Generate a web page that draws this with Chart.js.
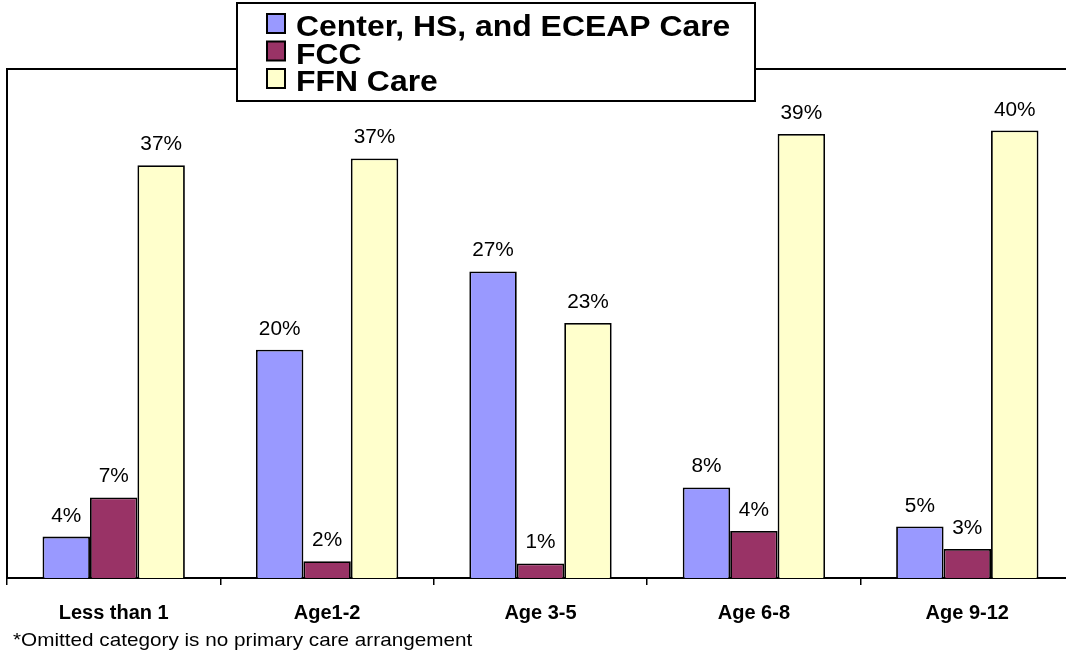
<!DOCTYPE html>
<html>
<head>
<meta charset="utf-8">
<script src="https://cdn.jsdelivr.net/npm/chart.js@4/dist/chart.umd.min.js"></script>
<style>
  html, body { margin: 0; padding: 0; background: #fff; overflow: hidden; }
  #wrap { position: relative; width: 1090px; height: 653px; }
</style>
</head>
<body>
<div id="wrap"><canvas id="careChart"></canvas></div>
<script>
// ---------- Data ----------
const ageGroups = ["Less than 1", "Age1-2", "Age 3-5", "Age 6-8", "Age 9-12"];
const seriesNames = ["Center, HS, and ECEAP Care", "FCC", "FFN Care"];

// bar heights (percent)
const centerValues = [3.7, 20.4, 27.4, 8.1, 4.6];
const fccValues = [7.2, 1.5, 1.3, 4.2, 2.6];
const ffnValues = [36.9, 37.5, 22.8, 39.7, 40.0];

// printed labels above the bars
const centerLabels = ["4%", "20%", "27%", "8%", "5%"];
const fccLabels = ["7%", "2%", "1%", "4%", "3%"];
const ffnLabels = ["37%", "37%", "23%", "39%", "40%"];

const footnote = "*Omitted category is no primary care arrangement";

const seriesColors = ["#9999FF", "#993366", "#FFFFCC"];

// the original picture is a little wider than its fonts, stretch text a bit
function wideText(ctx, text, x, y, sx) {
  ctx.save();
  ctx.translate(x, y);
  ctx.scale(sx, 1);
  ctx.fillText(text, 0, 0);
  ctx.restore();
}

// ---------- Plugins ----------
const frameAndLabels = {
  id: "frameAndLabels",
  afterDatasetsDraw(chart) {
    const { ctx, chartArea } = chart;
    ctx.save();

    // value labels
    ctx.font = "20px 'Liberation Sans', Arial, sans-serif";
    ctx.fillStyle = "#000";
    ctx.textAlign = "center";
    ctx.textBaseline = "alphabetic";
    chart.data.datasets.forEach((ds, i) => {
      const meta = chart.getDatasetMeta(i);
      meta.data.forEach((bar, j) => {
        wideText(ctx, ds.valueLabels[j], bar.x, bar.y - 15, 1.04);
      });
    });

    // top border of plot area
    ctx.strokeStyle = "#000";
    ctx.lineWidth = 2;
    ctx.beginPath();
    ctx.moveTo(chartArea.left, chartArea.top);
    ctx.lineTo(chartArea.right, chartArea.top);
    ctx.stroke();

    // legend box
    const bx = 237, by = 3, bw = 518, bh = 98;
    ctx.fillStyle = "#fff";
    ctx.fillRect(bx, by, bw, bh);
    ctx.strokeRect(bx, by, bw, bh);

    ctx.font = "bold 29px 'Liberation Sans', Arial, sans-serif";
    ctx.textAlign = "left";
    chart.data.datasets.forEach((ds, i) => {
      const base = 36 + i * 27.5;
      ctx.fillStyle = ds.backgroundColor;
      ctx.fillRect(267, base - 22, 18, 19);
      ctx.lineWidth = 2;
      ctx.strokeStyle = "#000";
      ctx.strokeRect(267, base - 22, 18, 19);
      ctx.fillStyle = "#000";
      wideText(ctx, ds.label, 296, base, 1.1);
    });

    // footnote
    ctx.font = "19px 'Liberation Sans', Arial, sans-serif";
    wideText(ctx, footnote, 13, 646, 1.09);
    ctx.restore();
  }
};

// ---------- Chart ----------
const ctx = document.getElementById("careChart");
new Chart(ctx, {
  type: "bar",
  data: {
    labels: ageGroups,
    datasets: [
      { label: seriesNames[0], data: centerValues, valueLabels: centerLabels, backgroundColor: seriesColors[0] },
      { label: seriesNames[1], data: fccValues, valueLabels: fccLabels, backgroundColor: seriesColors[1] },
      { label: seriesNames[2], data: ffnValues, valueLabels: ffnLabels, backgroundColor: seriesColors[2] }
    ].map(d => Object.assign(d, {
      borderColor: "#000",
      borderWidth: 1.8,
      barPercentage: 1.0,
      categoryPercentage: 0.667
    }))
  },
  options: {
    responsive: true,
    maintainAspectRatio: false,
    animation: false,
    layout: { padding: { left: 7, right: 16, top: 69, bottom: 0 } },
    plugins: {
      legend: { display: false },
      tooltip: { enabled: false }
    },
    scales: {
      x: {
        afterFit: s => { s.height = 75; },
        grid: {
          display: true,
          drawOnChartArea: false,
          color: "#000",
          lineWidth: 1.5,
          tickLength: 7
        },
        border: { color: "#000", width: 2 },
        ticks: {
          color: "#000",
          padding: 16,
          font: { family: "'Liberation Sans', Arial, sans-serif", size: 20, weight: "bold" }
        }
      },
      y: {
        min: 0,
        max: 45.5,
        afterFit: s => { s.width = 0; },
        grid: { display: false },
        border: { display: true, color: "#000", width: 2 },
        ticks: { display: false }
      }
    }
  },
  plugins: [frameAndLabels]
});
</script>
</body>
</html>
